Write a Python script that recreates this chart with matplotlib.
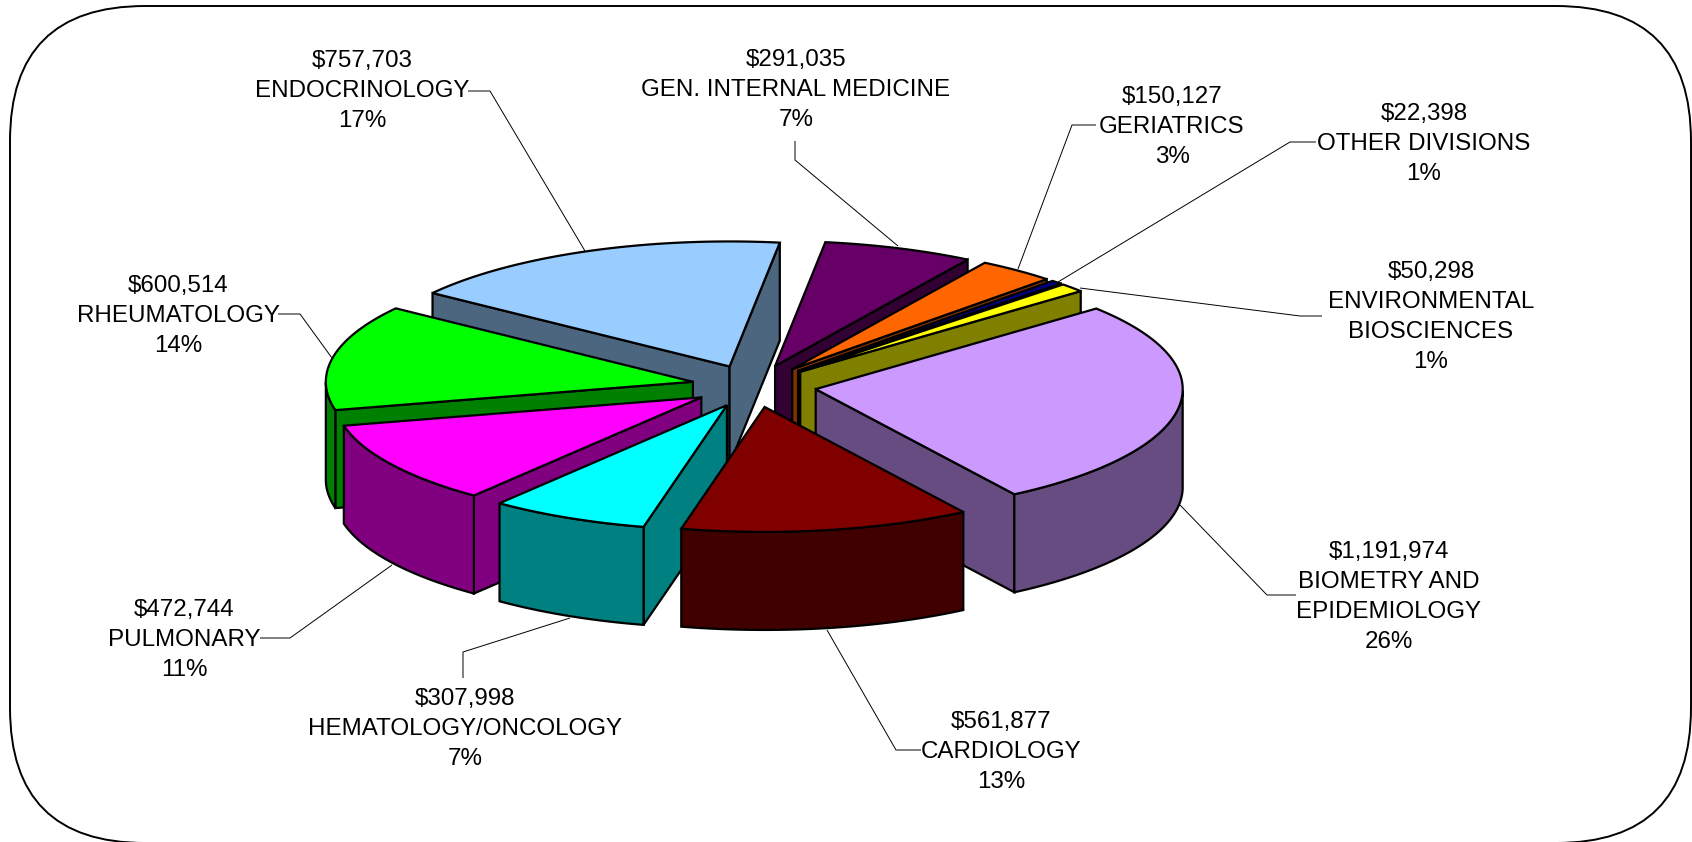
import numpy as np
import matplotlib
matplotlib.use('Agg')
import matplotlib.pyplot as plt
from matplotlib.patches import Polygon, FancyBboxPatch

plt.rcParams['font.family'] = ['Liberation Sans', 'DejaVu Sans']

categories = ['BIOMETRY AND\nEPIDEMIOLOGY', 'CARDIOLOGY', 'HEMATOLOGY/ONCOLOGY', 'PULMONARY',
              'RHEUMATOLOGY', 'ENDOCRINOLOGY', 'GEN. INTERNAL MEDICINE', 'GERIATRICS',
              'OTHER DIVISIONS', 'ENVIRONMENTAL\nBIOSCIENCES']
values = [1191974, 561877, 307998, 472744, 600514, 757703, 291035, 150127, 22398, 50298]
percents = [26, 13, 7, 11, 14, 17, 7, 3, 1, 1]

top_colors = ['#CC99FF', '#800000', '#00FFFF', '#FF00FF', '#00FF00', '#99CCFF', '#660066', '#FF6600', '#000080', '#FFFF00']
side_colors = ['#664C80', '#400000', '#008080', '#800080', '#008000', '#4D6680', '#330033', '#803300', '#000040', '#808000']
draw_order = [5, 6, 7, 8, 9, 4, 3, 0, 2, 1]

# label centre positions (px), and leader polylines (px)
label_pos = [(1389, 597), (1001, 752), (465, 729), (184, 640), (178, 316), (362, 91), (796, 90), (1172, 127), (1424, 144), (1431, 317)]
leaders = [
    [(1180, 505), (1267, 595), (1296, 595)],
    [(827, 630), (896, 750), (921, 750)],
    [(570, 618), (463, 652), (463, 678)],
    [(392, 565), (290, 638), (260, 638)],
    [(332, 358), (300, 314), (278, 314)],
    [(585, 251), (490, 91), (468, 91)],
    [(898, 246), (795, 160), (795, 141)],
    [(1018, 269), (1072, 125), (1096, 125)],
    [(1058, 282), (1290, 142), (1316, 142)],
    [(1080, 288), (1300, 316), (1322, 316)],
]

W, H = 1692, 842
CX, CY, RX, RY, DEPTH, EXPLODE, START = 754, 386, 367, 125, 98, 0.17, 40.15
BOX = (10, 6, 1691, 843)
R = 135

fig = plt.figure(figsize=(W / 100, H / 100), dpi=100)
ax = fig.add_axes([0, 0, 1, 1])
ax.set_xlim(0, W)
ax.set_ylim(H, 0)
ax.axis('off')

ax.add_patch(FancyBboxPatch((BOX[0] + R, BOX[1] + R), BOX[2] - BOX[0] - 2 * R, BOX[3] - BOX[1] - 2 * R,
                            boxstyle=f'round,pad={R},rounding_size={R}',
                            fc='white', ec='black', lw=1.4, zorder=0))

vals = np.array(values, float)
sweeps = vals / vals.sum() * 360
starts = START - np.concatenate([[0], np.cumsum(sweeps)[:-1]])
LW = 1.6
z = 1
for i in draw_order:
    t0, t1 = starts[i], starts[i] - sweeps[i]
    mid = np.radians((t0 + t1) / 2)
    ax0 = CX + EXPLODE * RX * np.cos(mid)
    ay0 = CY - EXPLODE * RY * np.sin(mid)
    t = np.radians(np.linspace(t0, t1, 120))
    xs = ax0 + RX * np.cos(t)
    ys = ay0 - RY * np.sin(t)
    # side faces, only those turned to the viewer
    visible = [np.cos(t[0]) < 0, np.cos(t[-1]) > 0]
    for (ex, ey), vis in zip([(xs[0], ys[0]), (xs[-1], ys[-1])], visible):
        if vis:
            ax.add_patch(Polygon([(ax0, ay0), (ex, ey), (ex, ey + DEPTH), (ax0, ay0 + DEPTH)],
                                 fc=side_colors[i], ec='black', lw=LW, joinstyle='miter', zorder=z))
    # outer wall
    front = np.sin(t) < 0
    if front.any():
        fx, fy = xs[front], ys[front]
        ax.add_patch(Polygon(np.r_[np.c_[fx, fy], np.c_[fx[::-1], fy[::-1] + DEPTH]],
                             fc=side_colors[i], ec='black', lw=LW, joinstyle='miter', zorder=z))
    # top
    ax.add_patch(Polygon(np.r_[[(ax0, ay0)], np.c_[xs, ys]],
                         fc=top_colors[i], ec='black', lw=LW, joinstyle='miter', zorder=z))
    z += 1

for pts in leaders:
    p = np.array(pts)
    ax.plot(p[:, 0], p[:, 1], color='black', lw=0.7, zorder=50, solid_capstyle='butt')

for i, (x, y) in enumerate(label_pos):
    ax.text(x, y, f"${values[i]:,}\n{categories[i]}\n{percents[i]}%", ha='center', va='center',
            fontsize=17.4, linespacing=1.46, color='black', zorder=60)

fig.savefig('out.png', dpi=100, facecolor='white')
